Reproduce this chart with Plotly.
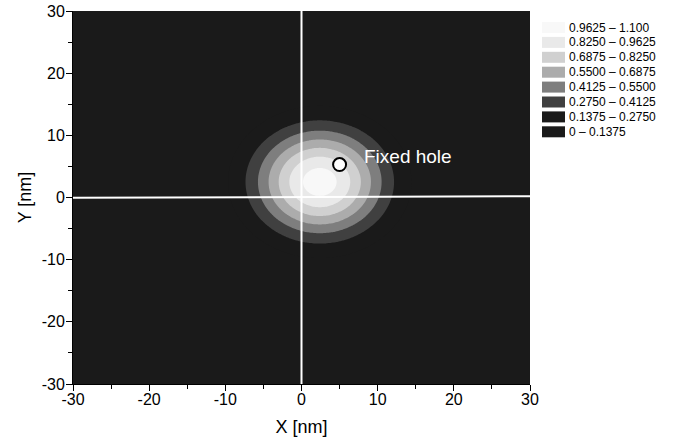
import numpy as np
import plotly.graph_objects as go

# ---- data ----
levels = [0, 0.1375, 0.275, 0.4125, 0.55, 0.6875, 0.825, 0.9625, 1.100]
level_labels = ["0.9625 – 1.100", "0.8250 – 0.9625", "0.6875 – 0.8250", "0.5500 – 0.6875",
                "0.4125 – 0.5500", "0.2750 – 0.4125", "0.1375 – 0.2750", "0 – 0.1375"]
band_colors = ["#1a1a1a", "#1a1a1a", "#404040", "#7e7e7e", "#acacac", "#d0d0d0", "#e9e9e9", "#f8f8f8"]
peak_amp = 1.03
center_x, center_y = 2.4, 2.5
sigma_x, sigma_y = 6.0, 6.1
hole_x = [5.0]
hole_y = [5.3]
hole_label = "Fixed hole"
x_ticks = [-30, -20, -10, 0, 10, 20, 30]
y_ticks = [-30, -20, -10, 0, 10, 20, 30]
x_tick_text = ["-30", "-20", "-10", "0", "10", "20", "30"]
y_tick_text = ["-30", "-20", "-10", "0", "10", "20", "30"]

xg = np.linspace(-30, 30, 301)
yg = np.linspace(-30, 30, 301)
X, Y = np.meshgrid(xg, yg)
Z = peak_amp * np.exp(-((X - center_x) ** 2) / (2 * sigma_x ** 2) - ((Y - center_y) ** 2) / (2 * sigma_y ** 2))

# stepped colorscale
zmin, zmax = levels[0], levels[-1]
cs = []
for i, c in enumerate(band_colors):
    a = (levels[i] - zmin) / (zmax - zmin)
    b = (levels[i + 1] - zmin) / (zmax - zmin)
    cs.append([a, c])
    cs.append([b, c])

FONT = "Liberation Sans, Arial"

fig = go.Figure()
fig.add_trace(go.Contour(
    x=xg, y=yg, z=Z,
    zmin=zmin, zmax=zmax, zauto=False,
    colorscale=cs, showscale=False,
    contours=dict(start=levels[0], end=levels[-1], size=levels[1] - levels[0], coloring="fill"),
    line=dict(width=0),
    hoverinfo="skip",
))

# reference cross lines
fig.add_shape(type="line", x0=0, x1=0, y0=-30, y1=30, xref="x", yref="y",
              line=dict(color="white", width=2))
fig.add_shape(type="line", x0=-30, x1=30, y0=-0.05, y1=0.2, xref="x", yref="y",
              line=dict(color="white", width=2))

fig.add_trace(go.Scatter(
    x=hole_x, y=hole_y, mode="markers",
    marker=dict(size=13, color="white", line=dict(color="black", width=2)),
    showlegend=False, hoverinfo="skip",
))
fig.add_annotation(x=hole_x[0] + 3.0, y=hole_y[0] + 1.3, text=hole_label, showarrow=False,
                   xanchor="left", yanchor="middle",
                   font=dict(family=FONT, size=19, color="white"))

# legend (manual)
row0 = 27.5
dy = 14.9
for i, lab in enumerate(level_labels):
    col = band_colors[len(band_colors) - 1 - i]
    yc = row0 + i * dy
    fig.add_shape(type="rect", xref="paper", yref="paper",
                  x0=(542 - 73) / 457, x1=(565 - 73) / 457,
                  y0=1 - (yc - 5.5 - 11) / 373, y1=1 - (yc + 5.5 - 11) / 373,
                  fillcolor=col, line=dict(width=0))
    fig.add_annotation(xref="paper", yref="paper", x=(567 - 73) / 457, y=1 - (yc - 11) / 373,
                       text=lab, showarrow=False, xanchor="left", yanchor="middle",
                       font=dict(family=FONT, size=12, color="black"))

axis_common = dict(
    showgrid=False, zeroline=False, showline=True, linecolor="black", linewidth=1,
    ticks="outside", ticklen=6, tickcolor="black", tickwidth=1,
    minor=dict(ticks="outside", ticklen=4, dtick=5, tickcolor="black"),
    tickfont=dict(family=FONT, size=16, color="black"),
    range=[-30, 30], automargin=False, tickmode="array",
)
fig.update_layout(
    width=681, height=445,
    margin=dict(l=73, r=151, t=11, b=61),
    plot_bgcolor="#1a1a1a", paper_bgcolor="white",
    showlegend=False,
    xaxis=dict(**axis_common, tickvals=x_ticks, ticktext=x_tick_text, ticklabelstandoff=-5,
               title=dict(text="X [nm]", font=dict(family=FONT, size=18, color="black"), standoff=13)),
    yaxis=dict(**axis_common, tickvals=y_ticks, ticktext=y_tick_text, ticklabelstandoff=-2,
               title=dict(text="Y [nm]", font=dict(family=FONT, size=18, color="black"), standoff=5)),
)
fig.write_html("out.html")
